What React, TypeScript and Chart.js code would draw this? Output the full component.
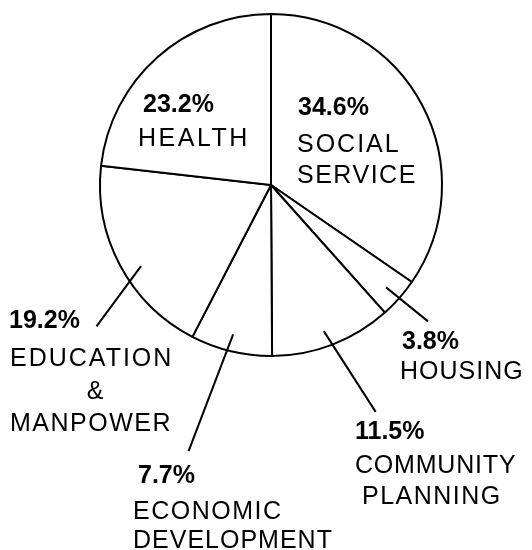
import React, { useEffect, useRef } from "react";
import { Chart, registerables } from "chart.js";

Chart.register(...registerables);

const categories = [
  "SOCIAL SERVICE",
  "HOUSING",
  "COMMUNITY PLANNING",
  "ECONOMIC DEVELOPMENT",
  "EDUCATION & MANPOWER",
  "HEALTH",
];
const values = [34.6, 3.8, 11.5, 7.7, 19.2, 23.2];
const labelLines = [
  ["SOCIAL", "SERVICE"],
  ["HOUSING"],
  ["COMMUNITY", "PLANNING"],
  ["ECONOMIC", "DEVELOPMENT"],
  ["EDUCATION", "&", "MANPOWER"],
  ["HEALTH"],
];

// Label layout: offsets from the pie centre (pixels), plus leader lines
type Layout = {
  pct: [number, number];
  lines: [number, number, CanvasTextAlign, number][];
  leader?: { frac: number; dir: [number, number]; inLen: number; outLen: number };
};
const layouts: Layout[] = [
  { pct: [27, -70], lines: [[26, -33, "left", 2], [26, -2, "left", 1.5]] },
  {
    pct: [131, 164],
    lines: [[129, 194, "left", 1]],
    leader: { frac: 0.5, dir: [42, 34], inLen: 17, outLen: 37 },
  },
  {
    pct: [84, 254],
    lines: [[84, 288, "left", 0.8], [91, 319, "left", 1.5]],
    leader: { frac: 0.5, dir: [52, 81], inLen: 16, outLen: 80 },
  },
  {
    pct: [-133, 298],
    lines: [[-138, 334, "left", 1.5], [-138, 363, "left", 1]],
    leader: { frac: 0.55, dir: [-45, 118], inLen: 17, outLen: 108 },
  },
  {
    pct: [-262, 143],
    lines: [[-261, 181, "left", 2], [-176, 214, "center", 0], [-261, 246, "left", 1.5]],
    leader: { frac: 0.41, dir: [-45, 61], inLen: 19, outLen: 56 },
  },
  { pct: [-128, -73], lines: [[-133, -39, "left", 2.5]] },
];

const labelPlugin = {
  id: "pieLabels",
  afterDatasetsDraw(chart: any) {
    const ctx: CanvasRenderingContext2D = chart.ctx;
    const meta = chart.getDatasetMeta(0);
    ctx.save();
    meta.data.forEach((arc: any, i: number) => {
      const cx = arc.x;
      const cy = arc.y;
      const R = arc.outerRadius;
      const L = layouts[i];
      if (L.leader) {
        const a = arc.startAngle + L.leader.frac * (arc.endAngle - arc.startAngle);
        const px = cx + R * Math.cos(a);
        const py = cy + R * Math.sin(a);
        const n = Math.hypot(L.leader.dir[0], L.leader.dir[1]);
        const ux = L.leader.dir[0] / n;
        const uy = L.leader.dir[1] / n;
        ctx.beginPath();
        ctx.strokeStyle = "#000";
        ctx.lineWidth = 2;
        ctx.moveTo(px - ux * L.leader.inLen, py - uy * L.leader.inLen);
        ctx.lineTo(px + ux * L.leader.outLen, py + uy * L.leader.outLen);
        ctx.stroke();
      }
      ctx.fillStyle = "#000";
      ctx.textBaseline = "alphabetic";
      ctx.textAlign = "left";
      (ctx as any).letterSpacing = "0px";
      ctx.font = "bold 25px 'Liberation Sans', Arial, sans-serif";
      ctx.fillText(values[i].toFixed(1) + "%", cx + L.pct[0], cy + L.pct[1]);
      ctx.font = "25px 'Liberation Sans', Arial, sans-serif";
      labelLines[i].forEach((t, j) => {
        const [dx, dy, align, sp] = L.lines[j];
        (ctx as any).letterSpacing = sp + "px";
        ctx.textAlign = align;
        ctx.fillText(t, cx + dx, cy + dy);
      });
    });
    ctx.restore();
  },
};

export default function App() {
  const ref = useRef<HTMLCanvasElement | null>(null);
  useEffect(() => {
    if (!ref.current) return;
    const chart = new Chart(ref.current, {
      type: "pie",
      data: {
        labels: categories,
        datasets: [
          {
            data: values,
            backgroundColor: "#ffffff",
            borderColor: "#000000",
            borderWidth: 2,
            hoverBorderWidth: 2,
          },
        ],
      },
      options: {
        responsive: false,
        animation: false,
        events: [],
        layout: { padding: { left: 99, right: 89, top: 12, bottom: 192 } },
        plugins: {
          legend: { display: false },
          tooltip: { enabled: false },
          title: { display: false },
        },
      },
      plugins: [labelPlugin],
    });
    return () => chart.destroy();
  }, []);
  return (
    <div
      style={{
        position: "fixed",
        left: 0,
        top: 0,
        width: 532,
        height: 550,
        background: "#fff",
      }}
    >
      <canvas ref={ref} width={532} height={550} style={{ display: "block" }} />
    </div>
  );
}
